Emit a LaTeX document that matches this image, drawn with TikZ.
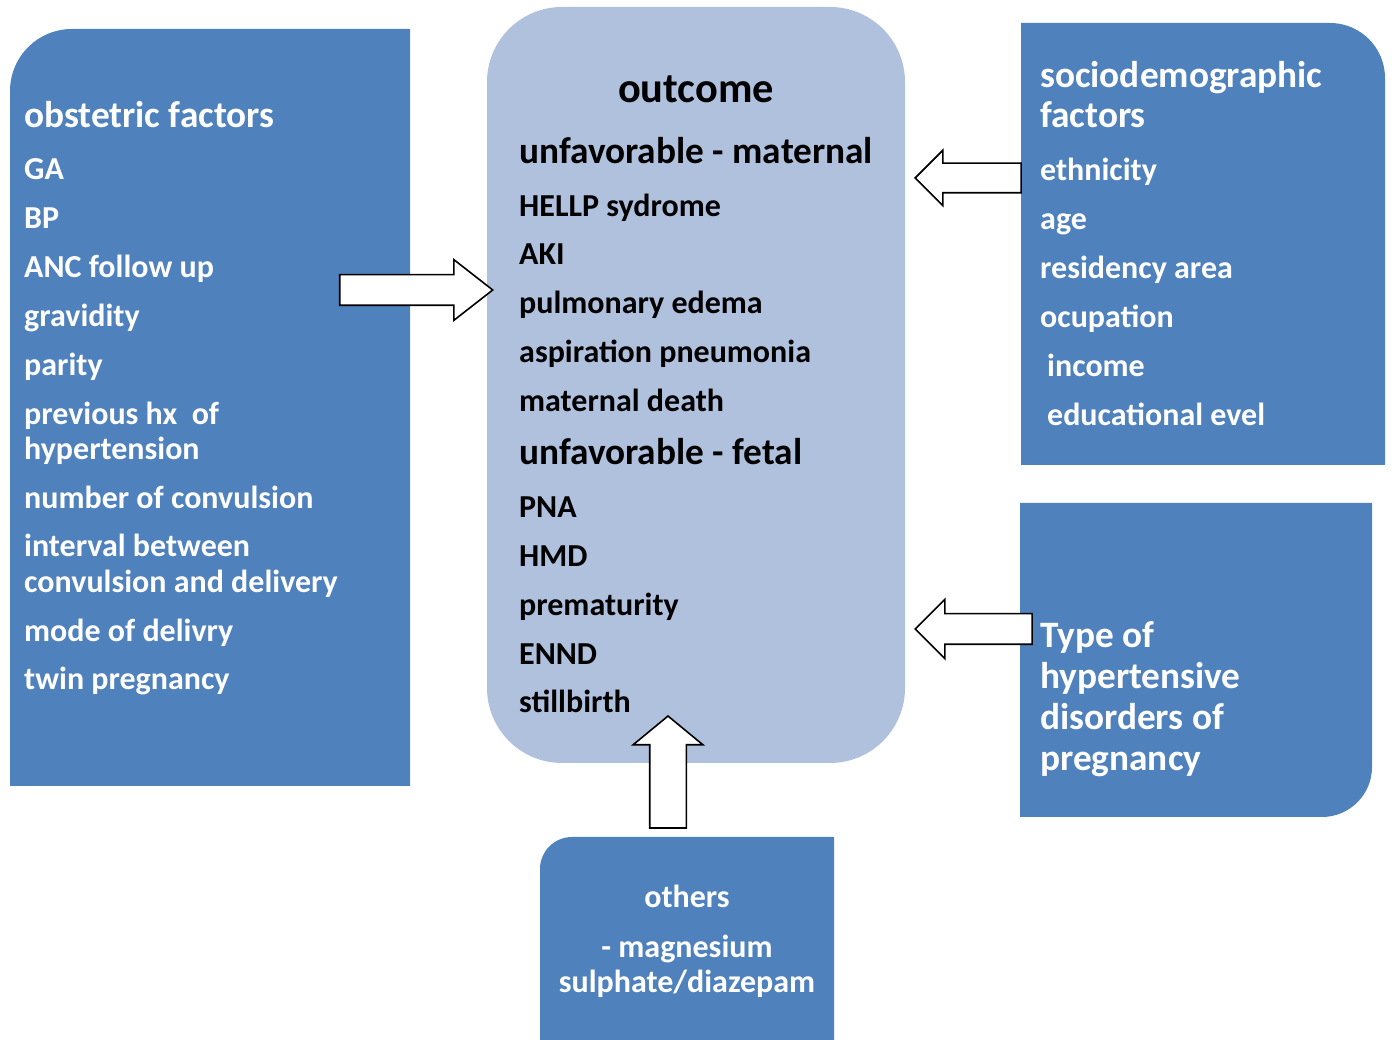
\documentclass[tikz,border=0pt]{standalone}
\usepackage{fontspec}
\setmainfont{Carlito}
\usepackage{tikz}
\usetikzlibrary{shapes.arrows, positioning}
\definecolor{darkblue}{HTML}{4F81BD}
\definecolor{lightblue}{HTML}{B0C1DE}

\begin{document}
\begin{tikzpicture}[
    x=1pt, y=1pt,
    factorbox/.style={fill=darkblue},
    outbox/.style={rectangle, fill=lightblue, rounded corners=75pt, inner sep=0pt},
    headtxt/.style={anchor=base west, inner sep=0pt, font=\fontsize{37.3}{37.3}\selectfont\bfseries},
    itemtxt/.style={anchor=base west, inner sep=0pt, font=\fontsize{32}{32}\selectfont\bfseries},
    blockarrow/.style={single arrow, draw=black, fill=white, line width=1.6pt, inner xsep=0pt,
        single arrow head indent=0pt, anchor=tip}
]
\useasboundingbox (0,0) rectangle (1392,1040);

% Boxes
\fill[factorbox] (10,254) -- (10,949) arc[start angle=180, end angle=90, radius=62] -- (410,1011) -- (410,254) -- cycle;
\node[outbox, minimum width=418pt, minimum height=756pt] (outcome) at (696,655) {};
\fill[factorbox] (1021,575) -- (1021,1017) -- (1330,1017) arc[start angle=90, end angle=0, radius=55] -- (1385,575) -- cycle;
\fill[factorbox] (1020,223) -- (1020,537) -- (1372,537) -- (1372,273) arc[start angle=0, end angle=-90, radius=50] -- cycle;
\fill[factorbox] (540,0) -- (540,171) arc[start angle=180, end angle=90, radius=32] -- (834,203) -- (834,0) -- cycle;

% Obstetric factors
\node[headtxt, text=white] (obsthead) at (24,1040-128) {obstetric factors};
\foreach \t/\yy [count=\i] in {GA/180, BP/229, ANC follow up/278, gravidity/327, parity/376,
    previous hx\ \ of/425, hypertension/460, number of convulsion/509, interval between/557,
    convulsion and delivery/593, mode of delivry/642, twin pregnancy/690}
  \node[itemtxt, text=white] (obst\i) at (24,1040-\yy) {\t};

% Outcome
\node[anchor=base, inner sep=0pt, font=\fontsize{42.4}{42.4}\selectfont\bfseries] (outhead) at (696,1040-103) {outcome};
\node[headtxt] (mathead) at (519,1040-164) {unfavorable - maternal};
\foreach \t/\yy [count=\i] in {HELLP sydrome/217, AKI/265, pulmonary edema/314, aspiration pneumonia/363, maternal death/412}
  \node[itemtxt] (mat\i) at (519,1040-\yy) {\t};
\node[headtxt] (fethead) at (519,1040-465) {unfavorable - fetal};
\foreach \t/\yy [count=\i] in {PNA/518, HMD/567, prematurity/616, ENND/665, stillbirth/713}
  \node[itemtxt] (fet\i) at (519,1040-\yy) {\t};

% Sociodemographic factors
\node[headtxt, text=white] (sochead1) at (1040,1040-88) {sociodemographic};
\node[headtxt, text=white] (sochead2) at (1040,1040-128) {factors};
\foreach \t/\xx/\yy [count=\i] in {ethnicity/1040/181, age/1040/230, residency area/1040/279,
    ocupation/1040/328, income/1047/377, educational evel/1047/426}
  \node[itemtxt, text=white] (soc\i) at (\xx,1040-\yy) {\t};

% Type of hypertensive disorders
\foreach \t/\yy [count=\i] in {Type of/648, hypertensive/689, disorders of/730, pregnancy/771}
  \node[headtxt, text=white] (type\i) at (1040,1040-\yy) {\t};

% Others
\node[itemtxt, anchor=base, text=white] (oth1) at (687,1040-908) {others};
\node[itemtxt, anchor=base, text=white] (oth2) at (687,1040-958) {- magnesium};
\node[itemtxt, anchor=base, text=white] (oth3) at (687,1040-993) {sulphate/diazepam};

% Block arrows
\node[blockarrow, minimum height=153pt, inner ysep=14.5pt, single arrow head extend=15pt,
    single arrow tip angle=76] (arrobst) at (494,750) {};
\node[blockarrow, minimum height=106pt, inner ysep=14pt, single arrow head extend=13pt,
    single arrow tip angle=90, shape border rotate=180] (arrsoc) at (914,862) {};
\node[blockarrow, minimum height=117pt, inner ysep=14.5pt, single arrow head extend=14.5pt,
    single arrow tip angle=90, shape border rotate=180] (arrtype) at (914,411) {};
\node[blockarrow, minimum height=112pt, inner xsep=17.5pt, inner ysep=17.5pt, single arrow head extend=16.5pt,
    single arrow tip angle=101, shape border rotate=90] (arroth) at (668,325) {};

\end{tikzpicture}
\end{document}
